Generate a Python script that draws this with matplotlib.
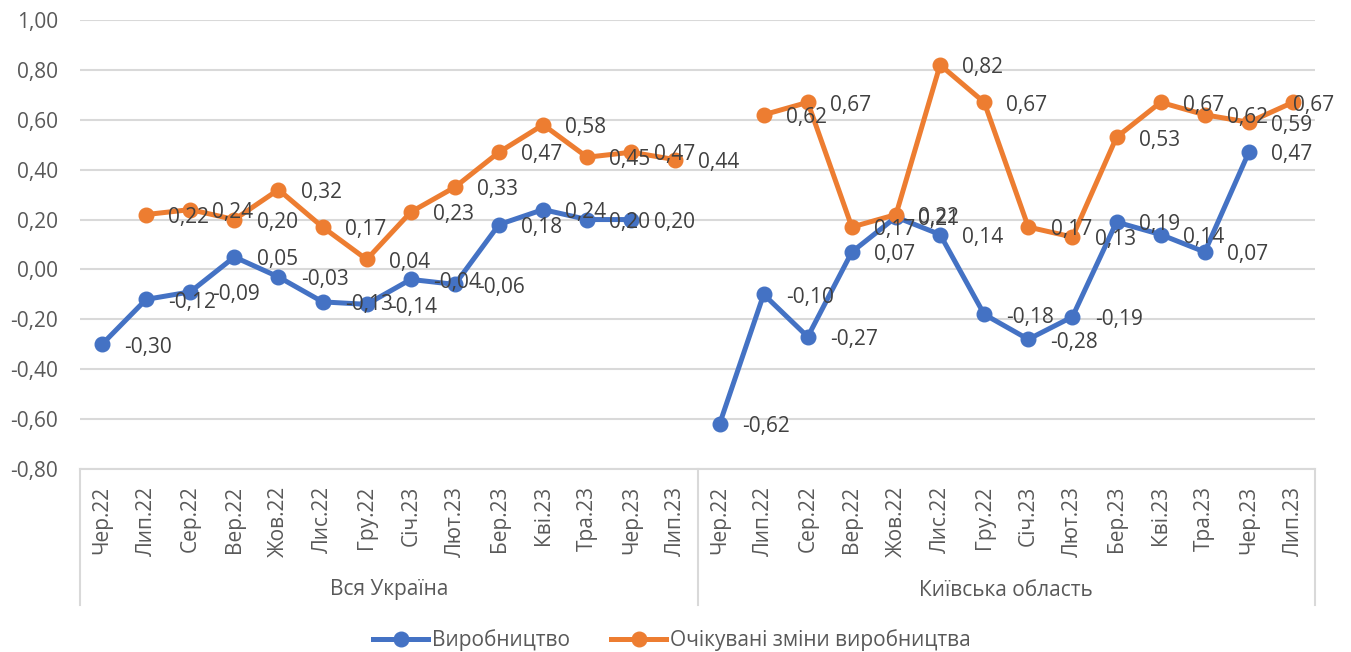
#!/usr/bin/python

import matplotlib
matplotlib.use('agg')

import numpy as np
import matplotlib.pyplot as plt
import matplotlib.transforms as transforms


months = ['Чер.22', 'Лип.22', 'Сер.22', 'Вер.22', 'Жов.22', 'Лис.22', 'Гру.22',
          'Січ.23', 'Лют.23', 'Бер.23', 'Кві.23', 'Тра.23', 'Чер.23', 'Лип.23']
regions = ['Вся Україна', 'Київська область']

ua_production = [-0.30, -0.12, -0.09, 0.05, -0.03, -0.13, -0.14, -0.04, -0.06, 0.18, 0.24, 0.20, 0.20, None]
ua_expected = [None, 0.22, 0.24, 0.20, 0.32, 0.17, 0.04, 0.23, 0.33, 0.47, 0.58, 0.45, 0.47, 0.44]
kyiv_production = [-0.62, -0.10, -0.27, 0.07, 0.21, 0.14, -0.18, -0.28, -0.19, 0.19, 0.14, 0.07, 0.47, None]
kyiv_expected = [None, 0.62, 0.67, 0.17, 0.22, 0.82, 0.67, 0.17, 0.13, 0.53, 0.67, 0.62, 0.59, 0.67]

series_names = ['Виробництво', 'Очікувані зміни виробництва']

BLUE = '#4472C4'
ORANGE = '#ED7D31'
TEXT = '#595959'
LABEL = '#404040'
GRID = '#D9D9D9'
FS = 15

plt.rcParams['font.family'] = ['Open Sans', 'DejaVu Sans']
plt.rcParams['font.size'] = FS


def to_array(values):
    return np.array([np.nan if v is None else v for v in values], dtype=float)


def fmt(v):
    v = round(v, 2) + 0.0
    if v == 0:
        v = 0.0
    return ('%.2f' % v).replace('.', ',')


production = np.concatenate([to_array(ua_production), to_array(kyiv_production)])
expected = np.concatenate([to_array(ua_expected), to_array(kyiv_expected)])
x = np.arange(len(production))
tick_labels = months * len(regions)

fig = plt.figure(figsize=(13.51, 6.52), dpi=100)
ax = fig.add_axes([80 / 1351, 1 - 469 / 652, (1315 - 80) / 1351, (469 - 20) / 652])

yticks = np.round(np.arange(-0.8, 1.01, 0.2), 2)
ax.set_ylim(-0.8, 1.0)
ax.set_xlim(-0.5, len(x) - 0.5)
ax.set_yticks(yticks)
ax.set_yticklabels([fmt(v) for v in yticks], color=TEXT)
ax.yaxis.grid(True, color=GRID, linewidth=1.5)
ax.set_axisbelow(True)
for side in ['top', 'right', 'left']:
    ax.spines[side].set_visible(False)
ax.spines['bottom'].set_color(GRID)
ax.spines['bottom'].set_linewidth(1.5)
ax.tick_params(axis='y', length=0, pad=16)
ax.tick_params(axis='x', length=0, pad=12)

ax.set_xticks(x)
ax.set_xticklabels(tick_labels, rotation=90, color=TEXT, va='top')

ax.plot(x, production, color=BLUE, lw=3.6, marker='o', ms=10.5, label=series_names[0], zorder=3)
ax.plot(x, expected, color=ORANGE, lw=3.6, marker='o', ms=10.5, label=series_names[1], zorder=4)

for series in [production, expected]:
    for i, v in enumerate(series):
        if np.isnan(v):
            continue
        dx = 16 if i < len(x) - 1 else 0
        ax.annotate(fmt(v), (i, v), xytext=(dx, -2), textcoords='offset points',
                    ha='left', va='center', color=LABEL, fontsize=FS, zorder=5,
                    annotation_clip=False)

# group separators and region names under the month labels
trans = transforms.blended_transform_factory(ax.transData, ax.transAxes)
depth = (605 - 469) / 449
n = len(months)
for k in range(len(regions) + 1):
    xs = k * n - 0.5
    ax.plot([xs, xs], [0, -depth], color=GRID, lw=1.5, transform=trans, clip_on=False)
for k, name in enumerate(regions):
    ax.text(k * n + (n - 1) / 2, -(590 - 469) / 449, name, transform=trans,
            ha='center', va='center', color=TEXT, fontsize=FS)

fig.legend(loc='center', bbox_to_anchor=(672 / 1351, 1 - 640 / 652), ncol=2,
           frameon=False, handlelength=2.6, columnspacing=2.0, handletextpad=0.2,
           labelcolor=TEXT, fontsize=FS)

fig.savefig('out.png', dpi=100)
